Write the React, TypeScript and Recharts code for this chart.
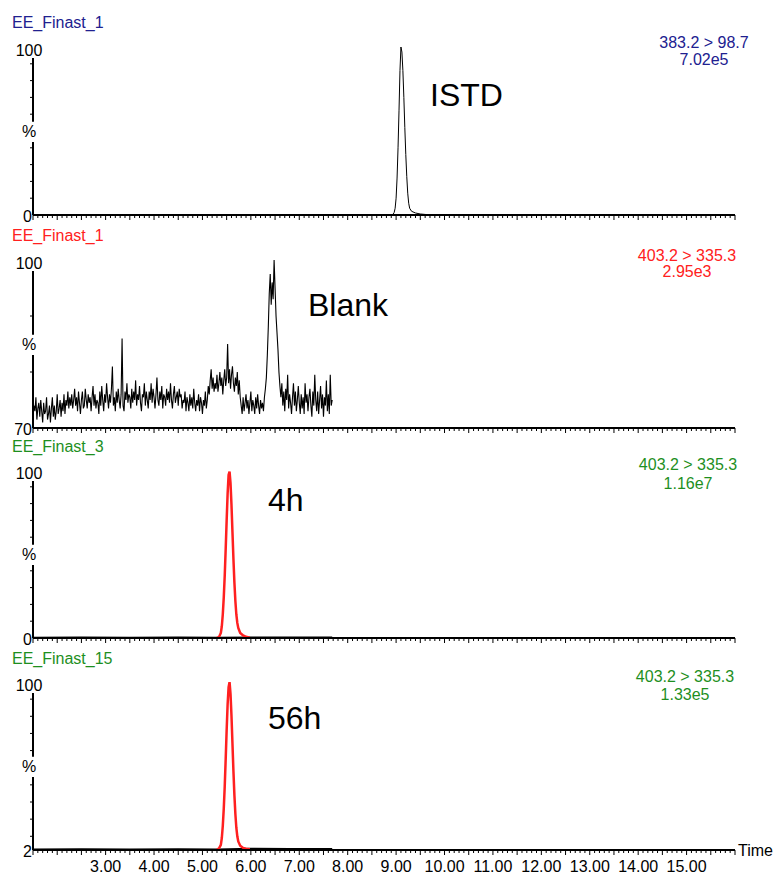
import React from 'react';
import { LineChart, Line, XAxis, YAxis, ReferenceLine } from 'recharts';

const FONT = '"Liberation Sans", Arial, sans-serif';
const NAVY = '#20208f';
const RED = '#ff2020';
const GREEN = '#1e8f1e';

// time axis (min)
const T_MIN = 1.5;
const T_MAX = 16.0;
const xLabelTimes = [3, 4, 5, 6, 7, 8, 9, 10, 11, 12, 13, 14, 15];

// ISTD, 383.2 > 98.7
const istdTimes = [
  1.5, 8.9, 8.94, 8.96, 8.98, 9.0, 9.02, 9.04, 9.06, 9.08, 9.1, 9.12, 9.14, 9.16,
  9.18, 9.2, 9.22, 9.24, 9.26, 9.28, 9.32, 9.4, 9.5, 9.65, 9.8, 16.0,
];
const istdValues = [
  0, 0, 0.5, 1.5, 4, 10, 22, 40, 62, 86, 100, 97, 86, 70,
  52, 36, 23, 13, 7, 4, 2.2, 1.2, 0.6, 0.2, 0, 0,
];

// Blank, 403.2 > 335.3 (one scan every 0.02 min from 1.50)
const blankStart = 1.5;
const blankStep = 0.02;
const blankValues = [
  72.0, 74.0, 73.0, 75.5, 71.5, 73.5, 74.5, 72.0, 75.0, 73.0,
  71.0, 74.5, 72.5, 73.0, 75.5, 71.5, 72.5, 74.0, 71.0, 73.5,
  75.5, 72.0, 74.0, 71.5, 73.0, 76.0, 72.5, 73.5, 75.0, 72.0,
  74.5, 73.0, 76.0, 72.5, 75.0, 74.0, 76.5, 73.5, 75.5, 74.0,
  76.0, 73.5, 75.0, 77.0, 74.0, 75.5, 73.0, 76.5, 74.5, 72.5,
  75.0, 76.5, 73.5, 74.0, 77.0, 75.0, 73.5, 76.0, 74.5, 75.5,
  73.0, 75.5, 77.5, 74.0, 76.0, 73.5, 75.0, 74.5, 72.5, 76.5,
  74.0, 77.5, 75.0, 73.0, 76.0, 74.5, 78.0, 75.5, 73.5, 76.0,
  74.5, 77.0, 81.0, 74.0, 75.5, 73.0, 76.5, 74.5, 77.0, 75.0,
  73.5, 76.0, 86.0, 74.0, 73.0, 76.5, 75.0, 78.0, 74.5, 76.0,
  75.5, 73.5, 77.0, 74.5, 76.5, 75.0, 78.5, 74.0, 76.0, 75.0,
  77.5, 74.5, 73.0, 76.0, 75.5, 78.0, 74.0, 76.5, 75.0, 73.5,
  76.5, 75.0, 78.0, 74.5, 77.0, 75.5, 73.5, 76.0, 79.0, 75.0,
  74.0, 76.5, 75.0, 77.5, 73.5, 76.0, 75.5, 74.0, 77.0, 75.0,
  76.5, 74.5, 78.0, 75.0, 73.5, 76.0, 77.5, 74.5, 75.5, 76.5,
  74.0, 77.0, 75.5, 76.0, 73.5, 75.0, 74.5, 76.5, 73.0, 75.5,
  74.5, 73.0, 76.0, 74.0, 75.5, 73.5, 77.0, 74.5, 73.0, 75.0,
  74.0, 76.0, 73.0, 75.5, 74.5, 72.5, 75.0, 74.0, 76.5, 73.5,
  75.0, 77.5, 76.0, 78.5, 80.5, 77.0, 79.0, 76.5, 78.0, 77.0,
  79.5, 76.5, 78.0, 80.0, 77.5, 79.0, 76.0, 78.5, 80.5, 77.5,
  79.0, 85.0, 78.0, 80.5, 77.0, 79.5, 81.0, 78.0, 76.5, 79.0,
  77.5, 80.0, 76.0, 78.5, 75.5, 74.0, 72.5, 75.5, 73.0, 74.5,
  76.0, 73.5, 75.0, 72.5, 74.5, 76.5, 73.0, 75.0, 74.0, 72.5,
  75.5, 73.5, 76.0, 74.0, 72.5, 75.0, 73.5, 74.5, 73.0, 75.5,
  77.0, 79.0, 83.0, 88.0, 94.0, 97.5, 92.0, 96.0, 93.0, 100,
  95.0, 90.0, 87.0, 84.0, 80.0, 77.5, 75.5, 78.0, 74.0, 76.5,
  73.0, 77.0, 75.0, 79.5, 73.5, 76.0, 74.5, 72.5, 75.5, 78.0,
  74.0, 76.5, 73.0, 75.0, 77.5, 74.5, 72.5, 76.0, 73.5, 75.5,
  72.5, 78.0, 74.5, 76.0, 73.0, 75.5, 77.0, 74.0, 72.0, 76.5,
  74.0, 79.5, 75.0, 73.0, 76.5, 72.5, 75.0, 77.5, 73.5, 76.0,
  72.0, 75.5, 74.0, 78.5, 73.0, 76.0, 72.5, 79.5, 74.0, 75.0,
];

// 4h
const h4BaseTimes = [1.5, 2.5, 3.5, 4.5, 5.3, 6.0, 6.8, 7.68];
const h4BaseValues = [0.3, 0.4, 0.3, 0.4, 0.3, 0.5, 0.4, 0.4];
const h4PeakTimes = [
  5.3, 5.34, 5.38, 5.4, 5.42, 5.44, 5.46, 5.48, 5.5, 5.52, 5.54, 5.56, 5.58, 5.6,
  5.62, 5.64, 5.66, 5.68, 5.7, 5.72, 5.74, 5.78, 5.84, 5.9, 5.98,
];
const h4PeakValues = [
  0, 0.5, 3, 7, 14, 24, 37, 53, 70, 86, 97, 99, 92, 79,
  63, 47, 33, 22, 14, 9, 6, 3, 1.5, 0.7, 0.2,
];

// 56h
const h56BaseTimes = [1.5, 2.5, 3.5, 4.5, 5.3, 6.0, 6.8, 7.68];
const h56BaseValues = [2.4, 2.6, 2.5, 2.6, 2.4, 2.9, 2.8, 2.7];
const h56PeakTimes = [
  5.3, 5.34, 5.38, 5.4, 5.42, 5.44, 5.46, 5.48, 5.5, 5.52, 5.54, 5.56, 5.58, 5.6,
  5.62, 5.64, 5.66, 5.68, 5.7, 5.72, 5.74, 5.78, 5.84, 5.9, 5.98,
];
const h56PeakValues = [
  2.3, 2.8, 5, 9, 16, 26, 39, 55, 72, 87, 97, 100, 93, 80,
  64, 48, 34, 23, 15, 10, 7, 4.5, 3.2, 2.7, 2.4,
];

const toRows = (ts: number[], vs: number[]) => ts.map((t, i) => ({ t, v: vs[i] }));
const blankTimes = blankValues.map((_, i) => Math.round((blankStart + i * blankStep) * 100) / 100);

const xTicks = Array.from({ length: 146 }, (_, i) => (15 + i) / 10);

const XTick = (props: any) => {
  const { x, y, payload, showLabels } = props;
  const v = payload.value;
  const major = Math.abs(v * 2 - Math.round(v * 2)) < 1e-6;
  const isInt = Math.abs(v - Math.round(v)) < 1e-6;
  return (
    <g>
      <line x1={x} y1={y} x2={x} y2={y + (major ? 5 : 3)} stroke="#000" strokeWidth={1} />
      {showLabels && isInt && xLabelTimes.includes(Math.round(v)) && (
        <text x={x} y={y + 22} textAnchor="middle" fontSize={16} fontFamily={FONT} fill="#000">
          {v.toFixed(2)}
        </text>
      )}
    </g>
  );
};

const YTick = (props: any) => {
  const { x, y, payload, yMin, yMid, minLabel } = props;
  const v = payload.value;
  const common = { fontSize: 16, fontFamily: FONT, fill: '#000' };
  if (v === 100)
    return <text x={x - 4} y={y + 9} textAnchor="middle" {...common}>100</text>;
  if (v === yMid)
    return <text x={x - 4} y={y + 6} textAnchor="middle" {...common}>%</text>;
  if (v === yMin)
    return <text x={x - 1} y={y + 7} textAnchor="end" {...common}>{minLabel}</text>;
  return <line x1={x - 3} y1={y} x2={x} y2={y} stroke="#000" strokeWidth={1} />;
};

type Series = { data: { t: number; v: number }[]; color: string; width: number };

const Panel = ({
  baseline, yMin, yMid, yTicks, minLabel, series, showLabels = false,
}: {
  baseline: number; yMin: number; yMid: number; yTicks: number[]; minLabel: string;
  series: Series[]; showLabels?: boolean;
}) => {
  const height = showLabels ? 216 : 212;
  const span = 100 - yMin;
  return (
    <div style={{ position: 'absolute', left: 0, top: baseline - 190 }}>
      <LineChart width={773} height={height} margin={{ top: 22, right: 38, bottom: 0, left: 0 }}>
        <XAxis
          dataKey="t"
          type="number"
          domain={[T_MIN, T_MAX]}
          ticks={xTicks}
          interval={0}
          tickSize={0}
          tickMargin={0}
          tickLine={false}
          axisLine={{ stroke: '#000', strokeWidth: 2 }}
          height={height - 190}
          allowDataOverflow
          tick={(p: any) => <XTick {...p} showLabels={showLabels} />}
        />
        <YAxis
          type="number"
          domain={[yMin, 100]}
          ticks={yTicks}
          interval={0}
          width={33}
          tickSize={0}
          tickMargin={0}
          tickLine={false}
          axisLine={false}
          allowDataOverflow
          tick={(p: any) => <YTick {...p} yMin={yMin} yMid={yMid} minLabel={minLabel} />}
        />
        <ReferenceLine
          ifOverflow="visible"
          segment={[{ x: T_MIN, y: yMin }, { x: T_MIN, y: yMin + span * 0.435 }]}
          stroke="#000"
          strokeWidth={2}
        />
        <ReferenceLine
          ifOverflow="visible"
          segment={[{ x: T_MIN, y: yMin + span * 0.555 }, { x: T_MIN, y: yMin + span * 0.935 }]}
          stroke="#000"
          strokeWidth={2}
        />
        {series.map((s, i) => (
          <Line
            key={i}
            data={s.data}
            dataKey="v"
            type="linear"
            dot={false}
            stroke={s.color}
            strokeWidth={s.width}
            isAnimationActive={false}
          />
        ))}
      </LineChart>
    </div>
  );
};

const Txt = ({
  x, y, text, color = '#000', size = 16, anchor = 'start',
}: {
  x: number; y: number; text: string; color?: string; size?: number; anchor?: 'start' | 'middle';
}) => (
  <div
    style={{
      position: 'absolute',
      left: x,
      top: y - size * 0.49,
      transform: anchor === 'middle' ? 'translateX(-50%)' : undefined,
      fontFamily: FONT,
      fontSize: size,
      lineHeight: `${size}px`,
      color,
      whiteSpace: 'nowrap',
    }}
  >
    {text}
  </div>
);

const ticks0 = [0, 10, 20, 30, 40, 50, 60, 70, 80, 90, 100];

const App = () => {
  return (
    <div style={{ position: 'absolute', left: 0, top: 0, width: 773, height: 876, background: '#fff' }}>
      <Panel
        baseline={215}
        yMin={0}
        yMid={50}
        yTicks={ticks0}
        minLabel="0"
        series={[{ data: toRows(istdTimes, istdValues), color: '#000', width: 1 }]}
      />
      <Panel
        baseline={428}
        yMin={70}
        yMid={85}
        yTicks={[70, 80, 85, 90, 100]}
        minLabel="70"
        series={[{ data: toRows(blankTimes, blankValues), color: '#000', width: 1.1 }]}
      />
      <Panel
        baseline={638}
        yMin={0}
        yMid={50}
        yTicks={ticks0}
        minLabel="0"
        series={[
          { data: toRows(h4BaseTimes, h4BaseValues), color: '#000', width: 1.5 },
          { data: toRows(h4PeakTimes, h4PeakValues), color: RED, width: 2.5 },
        ]}
      />
      <Panel
        baseline={850}
        yMin={2}
        yMid={51}
        yTicks={[2, 10, 20, 30, 40, 51, 60, 70, 80, 90, 100]}
        minLabel="2"
        showLabels
        series={[
          { data: toRows(h56BaseTimes, h56BaseValues), color: '#000', width: 1.5 },
          { data: toRows(h56PeakTimes, h56PeakValues), color: RED, width: 2.5 },
        ]}
      />

      <Txt x={12} y={23} text="EE_Finast_1" color={NAVY} />
      <Txt x={704} y={43} text="383.2 > 98.7" color={NAVY} anchor="middle" />
      <Txt x={704} y={60} text="7.02e5" color={NAVY} anchor="middle" />
      <Txt x={430} y={95} text="ISTD" size={32} />

      <Txt x={12} y={236} text="EE_Finast_1" color={RED} />
      <Txt x={687} y={256} text="403.2 > 335.3" color={RED} anchor="middle" />
      <Txt x={687} y={272} text="2.95e3" color={RED} anchor="middle" />
      <Txt x={308} y={305} text="Blank" size={32} />

      <Txt x={12} y={447} text="EE_Finast_3" color={GREEN} />
      <Txt x={688} y={465} text="403.2 > 335.3" color={GREEN} anchor="middle" />
      <Txt x={688} y={484} text="1.16e7" color={GREEN} anchor="middle" />
      <Txt x={268} y={500} text="4h" size={32} />

      <Txt x={12} y={659} text="EE_Finast_15" color={GREEN} />
      <Txt x={685} y={677} text="403.2 > 335.3" color={GREEN} anchor="middle" />
      <Txt x={685} y={695} text="1.33e5" color={GREEN} anchor="middle" />
      <Txt x={268} y={718} text="56h" size={32} />

      <Txt x={738} y={851} text="Time" />
    </div>
  );
};

export default App;
